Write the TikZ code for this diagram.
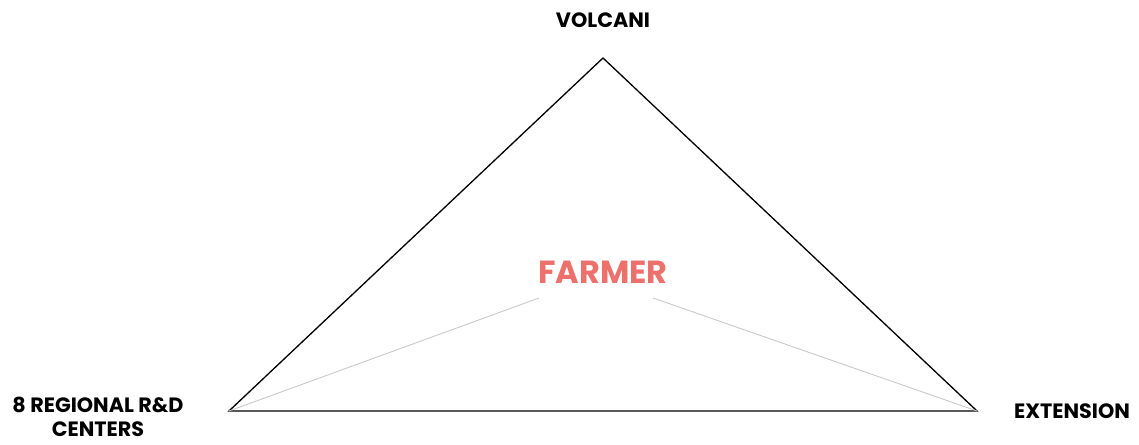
\documentclass[tikz,border=0pt]{standalone}
\definecolor{coral}{RGB}{236, 112, 107}
\definecolor{grisclaro}{RGB}{200, 200, 200}
\usepackage{fontspec}
\setmainfont{Poppins}
\usepackage{tikz}
\usetikzlibrary{positioning, calc}

\begin{document}
\begin{tikzpicture}[x=0.02cm, y=0.02cm, every node/.style={font=\fontsize{11.8}{13.6}\selectfont\bfseries, inner sep=0pt}]
      \useasboundingbox (0,0) rectangle (1139,445);

      % vertices of the triangle
      \coordinate (volcani) at (603,387);
      \coordinate (regional) at (229,34);
      \coordinate (extension) at (977,34);

      \node (tvolcani) at (603,425) {VOLCANI};
      \node[align=center] (tregional) at (98,28)
            {8 REGIONAL R\&D\\CENTERS};
      \node (textension) at (1072,34) {EXTENSION};

      \node[font=\fontsize{18.2}{22}\selectfont\bfseries, text=coral] (farmer) at (603,173) {FARMER};
      \coordinate (fleft) at (539,147);
      \coordinate (fright) at (653,147);

      \draw[black, line width=0.75pt, line join=miter] (volcani) -- (extension) -- (regional) -- cycle;

      \draw[grisclaro, line width=0.5pt] (fleft) -- (regional);
      \draw[grisclaro, line width=0.5pt] (fright) -- (extension);
    \end{tikzpicture}
\end{document}
